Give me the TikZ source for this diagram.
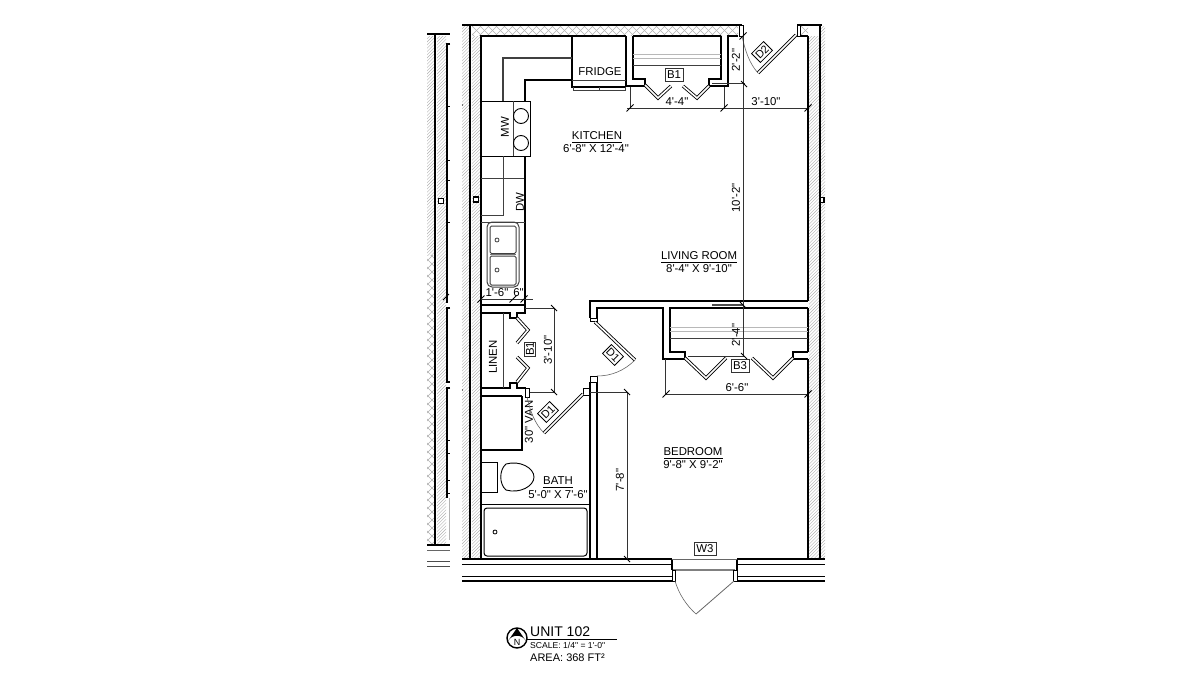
\documentclass[tikz,border=0pt]{standalone}
\usepackage{fontspec}
\newfontfamily\planfont{Liberation Sans}
\newcommand{\fs}[1]{\planfont\fontsize{#1}{#1}\selectfont}
\newcommand{\hatchtall}[4]{\begin{scope}\clip (#1,#2) rectangle (#3,#4);
\foreach \k in {0,3.2,...,620}{\draw[hatchline] (#1-10,#2+\k) -- ++(30,-30);}
\end{scope}}
\newcommand{\crosstop}[4]{\begin{scope}\clip (#1,#2) rectangle (#3,#4);
\foreach \k in {0,8,...,360}{\draw[hatchline] (#1-10+\k,#4+2) -- ++(14,-14);\draw[hatchline] (#1-10+\k,#2-2) -- ++(14,14);}
\end{scope}}
\newcommand{\crosstall}[4]{\begin{scope}\clip (#1,#2) rectangle (#3,#4);
\foreach \k in {0,8,...,320}{\draw[hatchline] (#1-2,#2+\k) -- ++(14,-14);\draw[hatchline] (#1-2,#2+\k-14) -- ++(14,14);}
\end{scope}}
\def\dtick(#1,#2){\draw[tickline] ([shift={(-3.5,3.5)}]#1,#2) -- ([shift={(3.5,-3.5)}]#1,#2);}
\tikzset{
 hatchline/.style={draw=black!30,line width=0.4pt},
 wall/.style={draw=black,line width=1.9pt,line join=miter},
 wallthin/.style={draw=black,line width=1.2pt},
 cab/.style={draw=black!75,line width=1pt},
 dim/.style={draw=black!80,line width=0.65pt},
 tickline/.style={draw=black,line width=0.9pt},
 leaf/.style={draw=black,line width=0.85pt,double=white,double distance=1.6pt,line join=miter},
 swing/.style={draw=black!60,line width=0.6pt},
 glass/.style={draw=black!28,line width=0.8pt},
 lab/.style={inner sep=0pt,font=\fs{11.4},text=black},
 tag/.style={draw=black!80,line width=0.7pt,fill=white,inner sep=0pt,minimum width=18pt,minimum height=13pt,font=\fs{11.4}},
 tagd/.style={draw=black,line width=0.8pt,fill=white,inner sep=0pt,minimum width=17pt,minimum height=12.5pt,font=\fs{11}},
}
\begin{document}
\begin{tikzpicture}[x=1pt,y=-1pt]
\useasboundingbox (0,0) rectangle (1200,675);
\fill[white] (0,0) rectangle (1200,675);

% --- neighbouring unit, left
\hatchtall{427}{36}{435}{255}
\crosstall{427}{255}{435}{543}
\hatchtall{437}{36}{446}{543}
\draw[wall,line width=1.5pt] (427,34) -- (450,34);
\draw[wall,line width=1.4pt] (435,34) -- (435,545);
\draw[wallthin] (450,44) -- (447,44) -- (447,303);
\draw[wallthin] (450,308) -- (447,308) -- (447,382) -- (450,382);
\draw[wallthin] (450,388) -- (447,388) -- (447,498);
\draw[black!30,line width=0.8pt] (449,498) -- (449,540);
\foreach \y in {106,160,180,222,440,453,480,493}{\draw[black,line width=0.7pt] (447,\y) -- (450,\y);}
\draw[wallthin] (427,545) -- (450,545);
\draw[black!60,line width=0.7pt] (427,550) -- (450,550);
\draw[black!70,line width=1pt] (427,561) -- (450,561);
\draw[black!70,line width=1pt] (427,566) -- (450,566);
\draw[line width=1.2pt,fill=white] (438.5,198.5) rectangle (443.5,203.5);
\draw[tickline] (443,300) -- (449,294);

% --- hatching of the unit's walls
\hatchtall{462}{26}{470}{558}
\hatchtall{472}{36}{481}{558}
\crosstop{472}{26}{738}{35}
\hatchtall{809}{36}{819}{558}
\hatchtall{821}{26}{825}{558}
\crosstop{801}{26}{808}{35}

% --- outer walls
\draw[wall] (462,25) -- (742,25);
\draw[wall] (797,25) -- (822,25);
\draw[wall,line width=1.6pt] (470,25) -- (470,559);
\draw[wall] (481,558) -- (481,36) -- (572,36);
\draw[wall] (572,36) -- (626,36);
\draw[wall] (808,36) -- (808,301);
\draw[wall] (808,308) -- (808,352);
\draw[wall] (808,359) -- (808,559);
\draw[wall,line width=1.6pt] (820,25) -- (820,559);
\draw[wall] (800,36) -- (808,36);
\draw[line width=1.2pt,fill=white] (473.5,197) rectangle (478.5,202);
\draw[line width=1.2pt,fill=white] (820,197.5) rectangle (824,202.5);
\fill (462.5,105) circle (0.6);
\fill (462.5,390) circle (0.6);

% --- kitchen wall with window B1
\draw[wall] (633,36) -- (721,36);
\draw[wall] (633,36) -- (633,79) -- (645,79) -- (645,86) -- (626,86) -- (626,36);
\draw[wall] (721,36) -- (721,79) -- (709,79) -- (709,86) -- (728,86) -- (728,36) -- (738,36);
\draw[line width=0.9pt,fill=white] (739,25) rectangle (743,36);
\draw[line width=0.9pt,fill=white] (797,25) rectangle (800.5,36);
\draw[glass] (633,54) -- (721,54);
\draw[glass] (633,58) -- (721,58);
\draw[cab] (633,65) -- (721,65);
\draw[leaf] (645,85) -- (658,98) -- (671,86);
\draw[leaf] (683,86) -- (697,98) -- (709,86);
\node[tag] (b1a) at (674,75) {B1};

% --- door D2
\draw[leaf] (796,35) -- (758,73);
\draw[swing] (742,36) .. controls (745,50) and (749,63) .. (758,73);
\node[tagd,rotate=45] (d2) at (762,52) {D2};

% --- fridge and kitchen counter
\draw[wall,line width=1.4pt] (572,36) -- (572,87) -- (626,87);
\draw[cab,line width=0.7pt] (572,80) -- (626,80);
\draw[cab,line width=0.7pt] (573,87) -- (573,90) -- (625,90) -- (625,87);
\draw[cab,line width=0.7pt] (599,87) -- (599,90);
\node[lab] (fridge) at (600,72) {FRIDGE};
\draw[cab,line width=1.1pt] (572,58) -- (503,58) -- (503,101);
\draw[wallthin] (572,80) -- (525,80) -- (525,101);
\draw[wallthin,line width=1pt,fill=white] (481,101) rectangle (530,156);
\draw[cab] (513,101) -- (513,156);
\draw[wallthin,line width=0.9pt] (521,116) circle (7.5);
\draw[wallthin,line width=0.9pt] (521,143) circle (7.5);
\node[lab,rotate=90] (mw) at (505,127) {MW};
\draw[cab] (503,156) -- (503,215) -- (481,215);
\draw[cab] (481,178) -- (525,178);
\draw[wallthin] (525,156) -- (525,305);
\node[lab,rotate=90] (dw) at (520,202) {DW};
\draw[cab,line width=0.7pt] (481,222) -- (525,222);
\draw[cab,rounded corners=5pt] (487,222) rectangle (519,287);
\draw[cab,rounded corners=1.5pt] (490,226) rectangle (516,253.5);
\draw[cab,rounded corners=1.5pt] (490,256) rectangle (516,285);
\draw[black!55,line width=1pt] (490,254.8) -- (516,254.8);
\draw[cab,line width=0.8pt] (497,240) circle (2);
\draw[cab,line width=0.8pt] (497,270) circle (2);

% --- linen closet
\draw[wall] (481,305) -- (525,305) -- (525,313) -- (517,313) -- (517,318) -- (510,318) -- (510,313) -- (481,313);
\draw[wall] (481,388) -- (510,388) -- (510,383) -- (517,383) -- (517,388) -- (526,388);
\draw[line width=0.9pt,fill=white] (525,388) rectangle (529,397);
\draw[cab,line width=0.8pt] (503,313) -- (503,388);
\draw[leaf] (517,318) -- (528,330) -- (517,343);
\draw[leaf] (517,357) -- (528,368) -- (517,382);
\node[lab,rotate=90] (linen) at (493,357) {LINEN};
\node[tag,rotate=90,minimum width=14pt,minimum height=11.5pt] (b1b) at (530,349) {B1};

% --- bath
\draw[wall] (481,396) -- (522,396);
\draw[wallthin] (522,396) -- (522,450) -- (481,450);
\node[lab,rotate=90] (van) at (529,422) {30" VAN};
\draw[wallthin,line width=1pt] (481,462) -- (497,462) -- (497,492) -- (481,492);
\draw[wallthin,line width=0.9pt] (506,464) .. controls (520,460) and (534,468) .. (534,477) .. controls (534,486) and (520,494) .. (506,490) .. controls (499,484) and (499,470) .. (506,464) -- cycle;
\draw[wallthin,line width=1pt] (481,504) -- (590,504);
\draw[wallthin,line width=1pt,rounded corners=3pt] (484,508) rectangle (587,556);
\draw[line width=0.8pt] (495,532) circle (2);
\draw[line width=0.9pt,fill=white] (583,388) rectangle (590,395);
\draw[leaf] (583,394) -- (544,433);
\draw[swing] (527,397) .. controls (530,411) and (535,424) .. (544,433);
\node[tagd,rotate=45] (d1a) at (548,412) {D1};

% --- central wall
\draw[wall] (808,301) -- (590,301) -- (590,318);
\draw[wall] (597,318) -- (597,308) -- (663,308) -- (663,359) -- (685,359) -- (685,352) -- (670,352) -- (670,308) -- (808,308);
\draw[wall] (808,352) -- (793,352) -- (793,359) -- (808,359);
\draw[line width=0.9pt,fill=white] (590,318) rectangle (597,321);
\draw[line width=0.9pt,fill=white] (590,376) rectangle (597,382);
\draw[wall] (590,382) -- (590,559);
\draw[wall] (597,382) -- (597,559);
\draw[leaf] (595,322) -- (635,360);
\draw[swing] (597,376) .. controls (611,376) and (624,371) .. (635,360);
\node[tagd,rotate=-45] (d1b) at (613,355) {D1};

% --- window B3
\draw[glass] (670,327) -- (808,327);
\draw[glass] (670,331) -- (808,331);
\draw[cab] (670,338) -- (808,338);
\draw[leaf] (685,358) -- (706,378) -- (726,358);
\draw[leaf] (752,358) -- (773,378) -- (793,358);
\node[tag] (b3) at (740,366) {B3};

% --- bottom wall and door W3
\foreach \y/\w in {559/1.8,564/1,576/1,581/1.6}{
 \draw[black,line width=\w pt] (462,\y) -- (672,\y);
 \draw[black,line width=\w pt] (737,\y) -- (825,\y);
}
\draw[black,line width=1.4pt] (672,559) -- (672,570);
\draw[black,line width=1.4pt] (737,559) -- (737,570);
\draw[black!60,line width=0.8pt] (672,559) -- (737,559);
\draw[black!50,line width=1.2pt] (673,570) -- (735,570);
\draw[line width=0.9pt,fill=white] (672,570) rectangle (675.5,581);
\draw[line width=0.9pt,fill=white] (733.5,570) rectangle (737,581);
\draw[swing,line width=0.8pt] (734,581) -- (696,614);
\draw[swing] (675,581) .. controls (679,594) and (686,605) .. (696,614);
\node[tag,minimum width=22pt,minimum height=13pt] (w3) at (705,549) {W3};

% --- dimensions
\draw[dim] (627,108) -- (808,108);
\draw[dim] (630,87) -- (630,108);
\draw[dim] (724,87) -- (724,108);
\dtick(630,108) \dtick(724,108) \dtick(808,108)
\node[lab] (d44) at (677,102) {4'-4"};
\node[lab] (d310) at (766,102) {3'-10"};
\draw[dim] (743,36) -- (743,301);
\draw[dim] (712,83) -- (745,83);
\dtick(743,36)
\draw[tickline] (741,81) -- (747,87);
\node[lab,rotate=90] (d22) at (736,60) {2'-2"};
\node[lab,rotate=90] (d102) at (736,198) {10'-2"};
\draw[dim] (743,301) -- (743,355);
\draw[black!70,line width=1.6pt] (712,305) -- (743,305);
\draw[tickline] (740,302) -- (746,308);
\draw[dim] (688,356) -- (745,356);
\draw[tickline] (741,353) -- (747,359);
\node[lab,rotate=90] (d24) at (736,335) {2'-4"};
\draw[dim] (665,394) -- (808,394);
\draw[dim] (665,359) -- (665,394);
\dtick(666,394) \dtick(808,394)
\node[lab] (d66) at (737,388) {6'-6"};
\draw[dim] (590,392) -- (627,392);
\draw[dim] (627,392) -- (627,559);
\draw[tickline] (624,389) -- (630,395);
\draw[tickline] (624,556) -- (630,562);
\node[lab,rotate=90] (d78) at (620,480) {7'-8"};
\draw[dim] (481,299) -- (533,299);
\dtick(481,299) \dtick(513,299) \dtick(524,299)
\node[lab] (d16) at (497,293) {1'-6"};
\node[lab] (d6) at (518.5,293) {6"};
\draw[dim] (525,308) -- (554,308);
\draw[dim] (530,392) -- (554,392);
\draw[dim] (554,308) -- (554,392);
\draw[tickline] (551,305) -- (557,311);
\draw[tickline] (551,389) -- (557,395);
\node[lab,rotate=90] (d310b) at (548,350) {3'-10"};

% --- room labels
\node[lab] (kit) at (597,136) {KITCHEN};
\draw[black,line width=0.7pt] (572,142) -- (622,142);
\node[lab] (kitd) at (596,149) {6'-8" X 12'-4"};
\node[lab] (liv) at (699,256) {LIVING ROOM};
\draw[black,line width=0.7pt] (661,262) -- (737,262);
\node[lab] (livd) at (699,269) {8'-4" X 9'-10"};
\node[lab] (bed) at (693,452) {BEDROOM};
\draw[black,line width=0.7pt] (664,458) -- (723,458);
\node[lab] (bedd) at (693,465) {9'-8" X 9'-2"};
\node[lab] (bath) at (558,481) {BATH};
\draw[black,line width=0.7pt] (543,487) -- (573,487);
\node[lab] (bathd) at (558,495) {5'-0" X 7'-6"};

% --- title block
\draw[black,line width=1.4pt] (517,638) circle (10);
\fill[black] (517,628) -- (526,641) .. controls (522,634) and (512,634) .. (508,641) -- cycle;
\node[lab,font=\fs{9}] (north) at (517,642) {N};
\node[lab,anchor=west,font=\fs{14}] (unit) at (530,631.5) {UNIT 102};
\draw[black,line width=0.9pt] (527,639) -- (617,639);
\node[lab,anchor=west,font=\fs{8.6}] (scale) at (530,645) {SCALE: 1/4" = 1'-0"};
\node[lab,anchor=west,font=\fs{11}] (area) at (530,658) {AREA: 368 FT²};
\end{tikzpicture}
\end{document}
